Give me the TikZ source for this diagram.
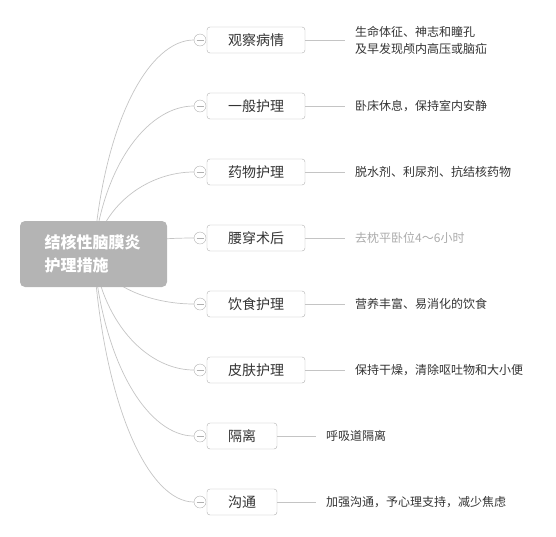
\documentclass[tikz,border=0pt]{standalone}
\usepackage{fontspec}
\setmainfont{Noto Sans CJK SC}
\usepackage{xcolor}
\definecolor{mapGray}{HTML}{B4B4B4}
\definecolor{lineGray}{HTML}{C4C4C4}
\definecolor{boxLine}{HTML}{B0B0B0}
\definecolor{textDark}{HTML}{333333}
\definecolor{textFaint}{HTML}{ABABAB}
\usepackage{tikz}
\usetikzlibrary{positioning, calc, backgrounds}

\begin{document}
\begin{tikzpicture}[x=1pt, y=-1pt,
  root/.style={fill=mapGray, rounded corners=5pt, text=white, align=left,
    font=\bfseries\fontsize{16}{23}\selectfont, text width=98pt,
    inner xsep=24.5pt, minimum height=66pt},
  topic/.style={draw=boxLine, rounded corners=3pt, fill=white, text=textDark,
    font=\fontsize{14}{16}\selectfont, minimum height=26pt, inner sep=0pt},
  fold/.style={circle, draw=boxLine, fill=white, minimum size=12pt, inner sep=0pt,
    path picture={\draw[boxLine] ([xshift=-3.5pt]path picture bounding box.center)
      -- ([xshift=3.5pt]path picture bounding box.center);}},
  detail/.style={anchor=west, inner xsep=10pt, align=left, text=textDark,
    font=\fontsize{12}{17}\selectfont},
  branch/.style={draw=lineGray, line width=0.7pt}]
  \useasboundingbox (0,0) rectangle (556,536);

  \node[root] (root) at (93.5,254) {结核性脑膜炎\\护理措施};

  % topics
  \node[topic, minimum width=98pt] (t1) at (256,40) {观察病情};
  \node[topic, minimum width=98pt] (t2) at (256,106) {一般护理};
  \node[topic, minimum width=98pt] (t3) at (256,172) {药物护理};
  \node[topic, minimum width=98pt] (t4) at (256,238) {腰穿术后};
  \node[topic, minimum width=98pt] (t5) at (256,304) {饮食护理};
  \node[topic, minimum width=98pt] (t6) at (256,370) {皮肤护理};
  \node[topic, minimum width=70pt] (t7) at (242,436) {隔离};
  \node[topic, minimum width=70pt] (t8) at (242,502) {沟通};

  % details
  \node[detail] (d1) at (345,40) {生命体征、神志和瞳孔\\及早发现颅内高压或脑疝};
  \node[detail] (d2) at (345,106) {卧床休息，保持室内安静};
  \node[detail] (d3) at (345,172) {脱水剂、利尿剂、抗结核药物};
  \node[detail, text=textFaint] (d4) at (345,238) {去枕平卧位4～6小时};
  \node[detail] (d5) at (345,304) {营养丰富、易消化的饮食};
  \node[detail] (d6) at (345,370) {保持干燥，清除呕吐物和大小便};
  \node[detail] (d7) at (316,436) {呼吸道隔离};
  \node[detail] (d8) at (316,502) {加强沟通，予心理支持，减少焦虑};

  \foreach \i/\yy in {1/40,2/106,3/172,4/238,5/304,6/370,7/436,8/502} {
    \node[fold] (c\i) at (200,\yy) {};
    \draw[branch] (t\i.east) -- (d\i.west);
    \begin{scope}[on background layer]
      \draw[branch] (root.center) .. controls (104,{254+0.63*(\yy-254)})
        and (150,\yy) .. (c\i.west);
    \end{scope}
  }
\end{tikzpicture}
\end{document}
